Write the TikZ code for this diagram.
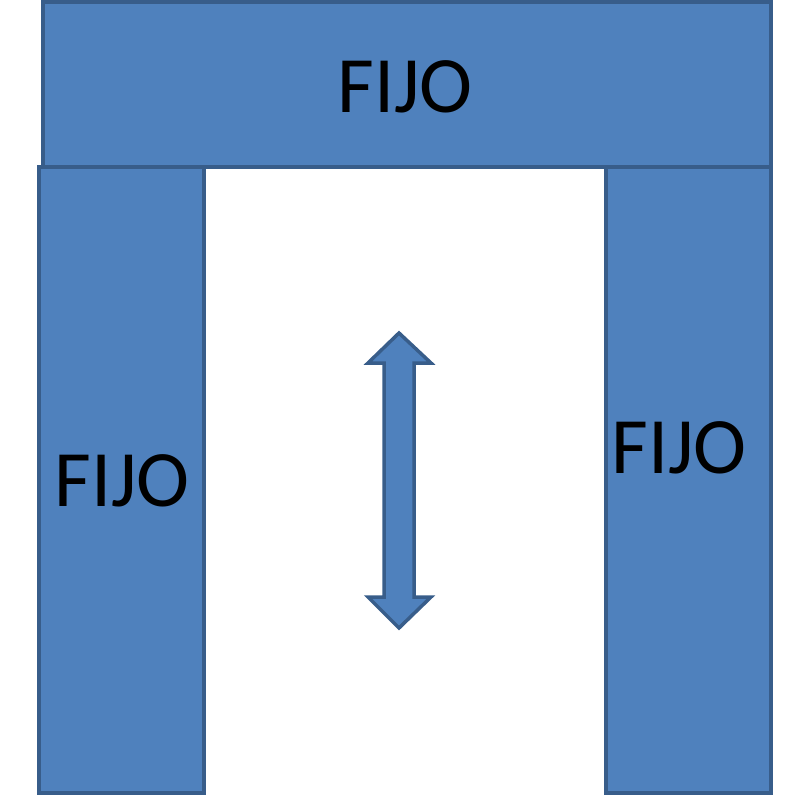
\documentclass[tikz,border=0pt]{standalone}
\usepackage{fontspec}
\setmainfont{Carlito}
\definecolor{boxfill}{HTML}{4F81BD}
\definecolor{boxline}{HTML}{385D8A}
\begin{document}
\begin{tikzpicture}[x=1pt,y=-1pt,
  panel/.style={fill=boxfill,draw=boxline,line width=3.5pt},
  lbl/.style={font=\fontsize{80}{96}\selectfont,text=black,anchor=base,inner sep=0pt}]
\useasboundingbox (0,0) rectangle (798,795);
\draw[panel] (43,2) rectangle (771,167);
\draw[panel] (39,167) rectangle (204,793);
\draw[panel] (606,167) rectangle (771,793);
\draw[panel,line join=miter] (399,333) -- (431,363) -- (414,363) -- (414,597) -- (431,597)
  -- (399,628) -- (368,597) -- (384,597) -- (384,363) -- (368,363) -- cycle;
\node[lbl] (top) at (405,112) {FIJO};
\node[lbl] (left) at (122,506) {FIJO};
\node[lbl] (right) at (679,473) {FIJO};
\end{tikzpicture}
\end{document}
